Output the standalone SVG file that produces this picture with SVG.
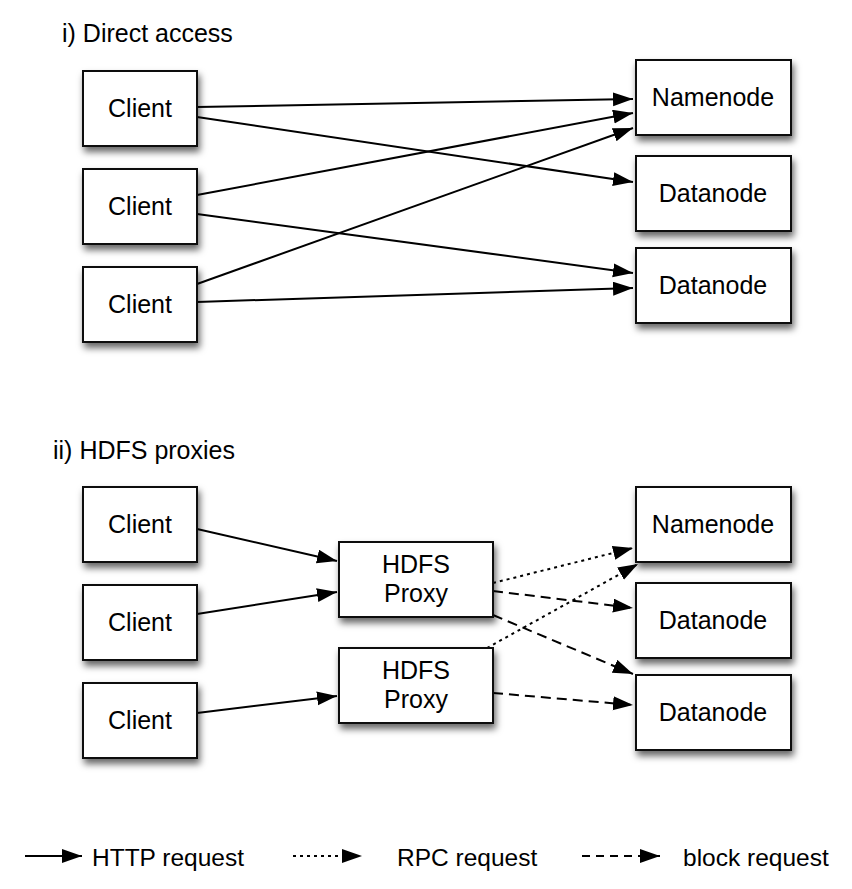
<svg xmlns="http://www.w3.org/2000/svg" width="852" height="889" viewBox="0 0 852 889">
<style>
.box{fill:#fff;stroke:#111;stroke-width:2;filter:url(#sh)}
.lbl{font-family:"Liberation Sans",Arial,sans-serif;font-size:25px;fill:#000;text-anchor:middle}
.ttl{font-family:"Liberation Sans",Arial,sans-serif;font-size:25px;fill:#000}
.leg{font-family:"Liberation Sans",Arial,sans-serif;font-size:24.5px;fill:#000}
.c{fill:none;stroke:#000;stroke-width:2;marker-end:url(#ah)}
.dot{stroke-dasharray:3 4}
.dash{stroke-dasharray:10 6}
.lg{fill:none;stroke:#000;stroke-width:2;marker-end:url(#ahs)}
</style>
<defs>
<filter id="sh" x="-20%" y="-20%" width="150%" height="170%">
<feDropShadow dx="2" dy="5" stdDeviation="3.5" flood-color="#000" flood-opacity="0.6"/>
</filter>
<marker id="ah" markerUnits="userSpaceOnUse" markerWidth="22" markerHeight="16" refX="20" refY="7" orient="auto">
<path d="M0,0 L20,7 L0,14 z" fill="#000"/>
</marker>
<marker id="ahs" markerUnits="userSpaceOnUse" markerWidth="22" markerHeight="16" refX="20" refY="7" orient="auto">
<path d="M0,0 L20,7 L0,14 z" fill="#000"/>
</marker>
</defs>
<rect width="852" height="889" fill="#fff"/>

<text class="ttl" x="62" y="42">i) Direct access</text>
<text class="ttl" x="53" y="459">ii) HDFS proxies</text>

<g id="connectors">
<line class="c" x1="197" y1="107" x2="633" y2="99"/>
<line class="c" x1="197" y1="117" x2="633" y2="182"/>
<line class="c" x1="197" y1="195" x2="633" y2="113"/>
<line class="c" x1="197" y1="214" x2="633" y2="273"/>
<line class="c" x1="197" y1="284" x2="633" y2="128"/>
<line class="c" x1="197" y1="302" x2="633" y2="288"/>

<line class="c" x1="197" y1="529" x2="337" y2="561"/>
<line class="c" x1="197" y1="614" x2="337" y2="592"/>
<line class="c" x1="197" y1="713" x2="337" y2="696"/>

<line class="c dot" x1="493" y1="583" x2="633" y2="548"/>
<line class="c dot" x1="487" y1="648" x2="638" y2="564"/>
<line class="c dash" x1="493" y1="591" x2="633" y2="608"/>
<line class="c dash" x1="493" y1="615" x2="633" y2="674"/>
<line class="c dash" x1="493" y1="693" x2="633" y2="705"/>
</g>

<g id="client1"><rect class="box" x="83" y="71" width="114" height="75"/><text class="lbl" x="140" y="117">Client</text></g>
<g id="client2"><rect class="box" x="83" y="169" width="114" height="75"/><text class="lbl" x="140" y="215">Client</text></g>
<g id="client3"><rect class="box" x="83" y="267" width="114" height="75"/><text class="lbl" x="140" y="313">Client</text></g>
<g id="namenode1"><rect class="box" x="636" y="60" width="155" height="75"/><text class="lbl" x="713" y="106">Namenode</text></g>
<g id="datanode1"><rect class="box" x="636" y="156" width="155" height="75"/><text class="lbl" x="713" y="202">Datanode</text></g>
<g id="datanode2"><rect class="box" x="636" y="248" width="155" height="75"/><text class="lbl" x="713" y="294">Datanode</text></g>

<g id="client4"><rect class="box" x="83" y="487" width="114" height="75"/><text class="lbl" x="140" y="533">Client</text></g>
<g id="client5"><rect class="box" x="83" y="585" width="114" height="75"/><text class="lbl" x="140" y="631">Client</text></g>
<g id="client6"><rect class="box" x="83" y="683" width="114" height="75"/><text class="lbl" x="140" y="729">Client</text></g>
<g id="proxy1"><rect class="box" x="339" y="542" width="154" height="75"/><text class="lbl" x="416" y="573">HDFS</text><text class="lbl" x="416" y="602">Proxy</text></g>
<g id="proxy2"><rect class="box" x="339" y="648" width="154" height="75"/><text class="lbl" x="416" y="679">HDFS</text><text class="lbl" x="416" y="708">Proxy</text></g>
<g id="namenode2"><rect class="box" x="636" y="487" width="155" height="75"/><text class="lbl" x="713" y="533">Namenode</text></g>
<g id="datanode3"><rect class="box" x="636" y="583" width="155" height="75"/><text class="lbl" x="713" y="629">Datanode</text></g>
<g id="datanode4"><rect class="box" x="636" y="675" width="155" height="75"/><text class="lbl" x="713" y="721">Datanode</text></g>

<g id="legend">
<line class="lg" x1="25" y1="856" x2="82" y2="856"/>
<text class="leg" x="92" y="866">HTTP request</text>
<line class="lg dot" x1="293" y1="856" x2="362" y2="856"/>
<text class="leg" x="397" y="866">RPC request</text>
<line class="lg" x1="582" y1="856" x2="660" y2="856" stroke-dasharray="8 6"/>
<text class="leg" x="683" y="866">block request</text>
</g>
</svg>
